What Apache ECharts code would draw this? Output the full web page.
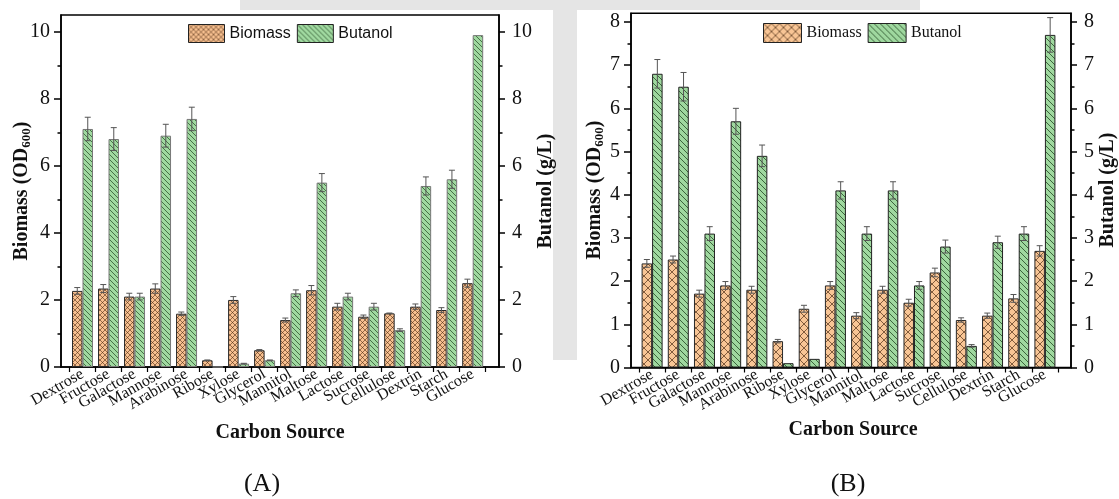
<!DOCTYPE html>
<html>
<head>
<meta charset="utf-8">
<script src="https://cdn.jsdelivr.net/npm/echarts@6/dist/echarts.min.js"></script>
<style>
html,body{margin:0;padding:0;background:#fff;}
#c{width:1119px;height:499px;}
</style>
</head>
<body>
<div id="c"></div>
<script>
// ---------------- DATA ----------------
const categories = ['Dextrose','Fructose','Galactose','Mannose','Arabinose','Ribose','Xylose','Glycerol','Mannitol','Maltose','Lactose','Sucrose','Cellulose','Dextrin','Starch','Glucose'];

// Panel A
const biomassA     = [2.27, 2.34, 2.1, 2.34, 1.59, 0.2, 2.0, 0.5, 1.4, 2.29, 1.8, 1.5, 1.6, 1.8, 1.7, 2.5];
const biomassErrA  = [0.1, 0.12, 0.1, 0.14, 0.05, 0.01, 0.1, 0.02, 0.06, 0.14, 0.1, 0.05, 0.01, 0.08, 0.07, 0.12];
const butanolA     = [7.1, 6.8, 2.1, 6.9, 7.4, 0, 0.1, 0.2, 2.2, 5.5, 2.1, 1.8, 1.1, 5.4, 5.6, 9.9];
const butanolErrA  = [0.35, 0.34, 0.1, 0.34, 0.35, 0, 0.01, 0.01, 0.1, 0.27, 0.1, 0.1, 0.04, 0.27, 0.27, 0];

// Panel B
const biomassB     = [2.41, 2.5, 1.71, 1.9, 1.8, 0.61, 1.36, 1.9, 1.2, 1.8, 1.5, 2.2, 1.1, 1.2, 1.6, 2.7];
const biomassErrB  = [0.09, 0.08, 0.08, 0.09, 0.08, 0.04, 0.08, 0.09, 0.07, 0.08, 0.08, 0.1, 0.05, 0.06, 0.09, 0.12];
const butanolB     = [6.8, 6.5, 3.1, 5.7, 4.9, 0.1, 0.2, 4.1, 3.1, 4.1, 1.9, 2.8, 0.5, 2.9, 3.1, 7.7];
const butanolErrB  = [0.33, 0.33, 0.16, 0.3, 0.25, 0, 0, 0.2, 0.16, 0.2, 0.09, 0.15, 0.03, 0.14, 0.16, 0.4];

// Tick values
const majorTicksA = [0, 2, 4, 6, 8, 10];
const minorTicksA = [1, 3, 5, 7, 9];
const majorTicksB = [0, 1, 2, 3, 4, 5, 6, 7, 8];
const minorTicksB = [0.5, 1.5, 2.5, 3.5, 4.5, 5.5, 6.5, 7.5];

// ---------------- STYLE HELPERS ----------------
const SERIF = "'Liberation Serif', 'Times New Roman', serif";
const SANS = "'Liberation Sans', Arial, sans-serif";

function makePattern(bg, line, s, cross, lw) {
  const c = document.createElement('canvas');
  c.width = s; c.height = s;
  const g = c.getContext('2d');
  g.fillStyle = bg; g.fillRect(0, 0, s, s);
  g.strokeStyle = line; g.lineWidth = lw;
  g.beginPath();
  for (const k of [-s, 0, s]) {
    g.moveTo(k, 0); g.lineTo(k + s, s);
    if (cross) { g.moveTo(k, s); g.lineTo(k + s, 0); }
  }
  g.stroke();
  return { image: c, repeat: 'repeat' };
}

const patBioA = makePattern('#F7C090', 'rgba(70,35,10,0.7)', 5, true, 0.8);
const patButA = makePattern('#A0D9A0', 'rgba(25,60,25,0.75)', 5, false, 0.9);
const patBioB = makePattern('#F8C595', 'rgba(60,30,10,0.8)', 8, true, 0.8);
const patButB = makePattern('#9FD89F', 'rgba(20,55,20,0.8)', 6, false, 0.9);

const BAR_W = 10.5;

function errData(vals, errs, sign) {
  const out = [];
  vals.forEach((v, i) => { if (errs[i] > 0) out.push([i, v, errs[i], sign]); });
  return out;
}

function errRender(params, api) {
  const i = api.value(0), v = api.value(1), e = api.value(2), s = api.value(3);
  const c = api.coord([i, v]);
  const x = c[0] + s * BAR_W / 2;
  const yT = api.coord([i, v + e])[1];
  const yB = api.coord([i, Math.max(0, v - e)])[1];
  const cap = 3;
  const st = { stroke: '#555', lineWidth: 1 };
  return {
    type: 'group',
    children: [
      { type: 'line', shape: { x1: x, y1: yT, x2: x, y2: yB }, style: st },
      { type: 'line', shape: { x1: x - cap, y1: yT, x2: x + cap, y2: yT }, style: st },
      { type: 'line', shape: { x1: x - cap, y1: yB, x2: x + cap, y2: yB }, style: st }
    ]
  };
}

// Panel geometry
const P = {
  A: { oL: 61, oR: 499, top: 15, bot: 367, iL: 69.5, iR: 485.7, max: 10.5 },
  B: { oL: 631, oR: 1071, top: 13.3, bot: 367.5, iL: 639, iR: 1058, max: 8.2 }
};

const grids = [], xAxes = [], yAxes = [], series = [];

function buildPanel(p, major, minor, bio, bioErr, but, butErr, patBio, patBut, butBorder) {
  const gOuter = grids.length;
  grids.push({ left: p.oL, top: p.top, width: p.oR - p.oL, height: p.bot - p.top,
    show: true, borderColor: '#000', borderWidth: 1.5, backgroundColor: 'transparent' });
  const gInner = grids.length;
  grids.push({ left: p.iL, top: p.top, width: p.iR - p.iL, height: p.bot - p.top });

  xAxes.push({ gridIndex: gOuter, type: 'value', min: 0, max: 1,
    axisLine: { show: true, onZero: false, lineStyle: { color: '#000', width: 1.5 } },
    axisTick: { show: false }, axisLabel: { show: false }, splitLine: { show: false } });
  const xInner = xAxes.length;
  xAxes.push({ gridIndex: gInner, type: 'category', data: categories, boundaryGap: true,
    axisLine: { show: false },
    axisTick: { show: true, length: 5, lineStyle: { color: '#000', width: 1.2 } },
    axisLabel: { interval: 0, rotate: 30, margin: 6, fontFamily: SERIF, fontSize: 16, color: '#111' },
    splitLine: { show: false } });

  const common = { gridIndex: gOuter, type: 'value', min: 0, max: p.max, splitLine: { show: false } };
  yAxes.push(Object.assign({}, common, { position: 'left',
    axisLine: { show: true, lineStyle: { color: '#000', width: 1.5 } },
    axisTick: { show: true, length: 7, customValues: major, lineStyle: { color: '#000', width: 1.5 } },
    axisLabel: { customValues: major, margin: 11, fontFamily: SERIF, fontSize: 20, color: '#111' } }));
  yAxes.push(Object.assign({}, common, { position: 'left',
    axisLine: { show: false },
    axisTick: { show: true, length: 3.5, customValues: minor, lineStyle: { color: '#000', width: 1.5 } },
    axisLabel: { show: false } }));
  yAxes.push(Object.assign({}, common, { position: 'right',
    axisLine: { show: true, lineStyle: { color: '#000', width: 1.5 } },
    axisTick: { show: true, length: 6, customValues: major, lineStyle: { color: '#000', width: 1.5 } },
    axisLabel: { customValues: major, margin: 13, fontFamily: SERIF, fontSize: 20, color: '#111' } }));
  yAxes.push(Object.assign({}, common, { position: 'right',
    axisLine: { show: false },
    axisTick: { show: true, length: 3.5, customValues: minor, lineStyle: { color: '#000', width: 1.5 } },
    axisLabel: { show: false } }));
  const yInner = yAxes.length;
  yAxes.push({ gridIndex: gInner, type: 'value', min: 0, max: p.max, show: false });

  series.push({ name: 'Biomass', type: 'bar', xAxisIndex: xInner, yAxisIndex: yInner,
    data: bio, barWidth: BAR_W, barGap: '0%',
    itemStyle: { color: patBio, borderColor: '#2a2a2a', borderWidth: 1 } });
  series.push({ name: 'Butanol', type: 'bar', xAxisIndex: xInner, yAxisIndex: yInner,
    data: but, barWidth: BAR_W, barGap: '0%',
    itemStyle: { color: patBut, borderColor: butBorder, borderWidth: 1 } });
  series.push({ type: 'custom', xAxisIndex: xInner, yAxisIndex: yInner, z: 5,
    renderItem: errRender, data: errData(bio, bioErr, -1).concat(errData(but, butErr, 1)),
    encode: { x: 0, y: 1 }, silent: true });
}

buildPanel(P.A, majorTicksA, minorTicksA, biomassA, biomassErrA, butanolA, butanolErrA, patBioA, patButA, '#777');
buildPanel(P.B, majorTicksB, minorTicksB, biomassB, biomassErrB, butanolB, butanolErrB, patBioB, patButB, '#222');

function richTitle(x, y, txt, isBio) {
  return {
    type: 'text', x: x, y: y, rotation: Math.PI / 2,
    style: isBio ? {
      text: '{a|Biomass (OD}{s|600}{a|)}',
      rich: {
        a: { fontFamily: SERIF, fontSize: 20, fontWeight: 'bold', fill: '#111' },
        s: { fontFamily: SERIF, fontSize: 13, fontWeight: 'bold', fill: '#111', padding: [9, 0, 0, 0] }
      },
      align: 'center', verticalAlign: 'middle'
    } : {
      text: txt, fontFamily: SERIF, fontSize: 20, fontWeight: 'bold', fill: '#111',
      align: 'center', verticalAlign: 'middle'
    }
  };
}

const graphics = [
  // faint background bands (watermark)
  { type: 'rect', shape: { x: 553, y: 0, width: 24, height: 360 }, style: { fill: '#e5e5e5' }, z: -10 },
  { type: 'rect', shape: { x: 240, y: 0, width: 680, height: 10 }, style: { fill: '#e5e5e5' }, z: -10 },
  { type: 'rect', shape: { x: 577, y: 0, width: 343, height: 9 }, style: { fill: '#e5e5e5' }, z: -10 },
  richTitle(22, 191, '', true),
  richTitle(546, 191, 'Butanol (g/L)', false),
  richTitle(595, 190, '', true),
  richTitle(1108, 190, 'Butanol (g/L)', false),
  { type: 'text', x: 280, y: 433, style: { text: 'Carbon Source', fontFamily: SERIF, fontSize: 20, fontWeight: 'bold', fill: '#111', align: 'center', verticalAlign: 'middle' } },
  { type: 'text', x: 853, y: 430, style: { text: 'Carbon Source', fontFamily: SERIF, fontSize: 20, fontWeight: 'bold', fill: '#111', align: 'center', verticalAlign: 'middle' } },
  { type: 'text', x: 262, y: 484, style: { text: '(A)', fontFamily: SERIF, fontSize: 26, fill: '#111', align: 'center', verticalAlign: 'middle' } },
  { type: 'text', x: 848, y: 484, style: { text: '(B)', fontFamily: SERIF, fontSize: 26, fill: '#111', align: 'center', verticalAlign: 'middle' } }
];

const chart = echarts.init(document.getElementById('c'), null, { renderer: 'canvas' });
chart.setOption({
  animation: false,
  backgroundColor: '#fff',
  grid: grids,
  xAxis: xAxes,
  yAxis: yAxes,
  legend: [
    { left: 183, top: 19, orient: 'horizontal', itemWidth: 36, itemHeight: 18, itemGap: 6,
      textStyle: { fontFamily: SANS, fontSize: 16, color: '#111', padding: [0, 0, 0, 0] },
      selectedMode: false,
      data: [ { name: 'Biomass', icon: 'rect', itemStyle: { color: patBioA, borderColor: '#222', borderWidth: 1 } },
              { name: 'Butanol', icon: 'rect', itemStyle: { color: patButA, borderColor: '#222', borderWidth: 1 } } ] },
    { left: 758, top: 18, orient: 'horizontal', itemWidth: 38, itemHeight: 19, itemGap: 6,
      textStyle: { fontFamily: SERIF, fontSize: 16, color: '#111' },
      selectedMode: false,
      data: [ { name: 'Biomass', icon: 'rect', itemStyle: { color: patBioB, borderColor: '#222', borderWidth: 1 } },
              { name: 'Butanol', icon: 'rect', itemStyle: { color: patButB, borderColor: '#222', borderWidth: 1 } } ] }
  ],
  graphic: graphics,
  series: series
});
</script>
</body>
</html>
